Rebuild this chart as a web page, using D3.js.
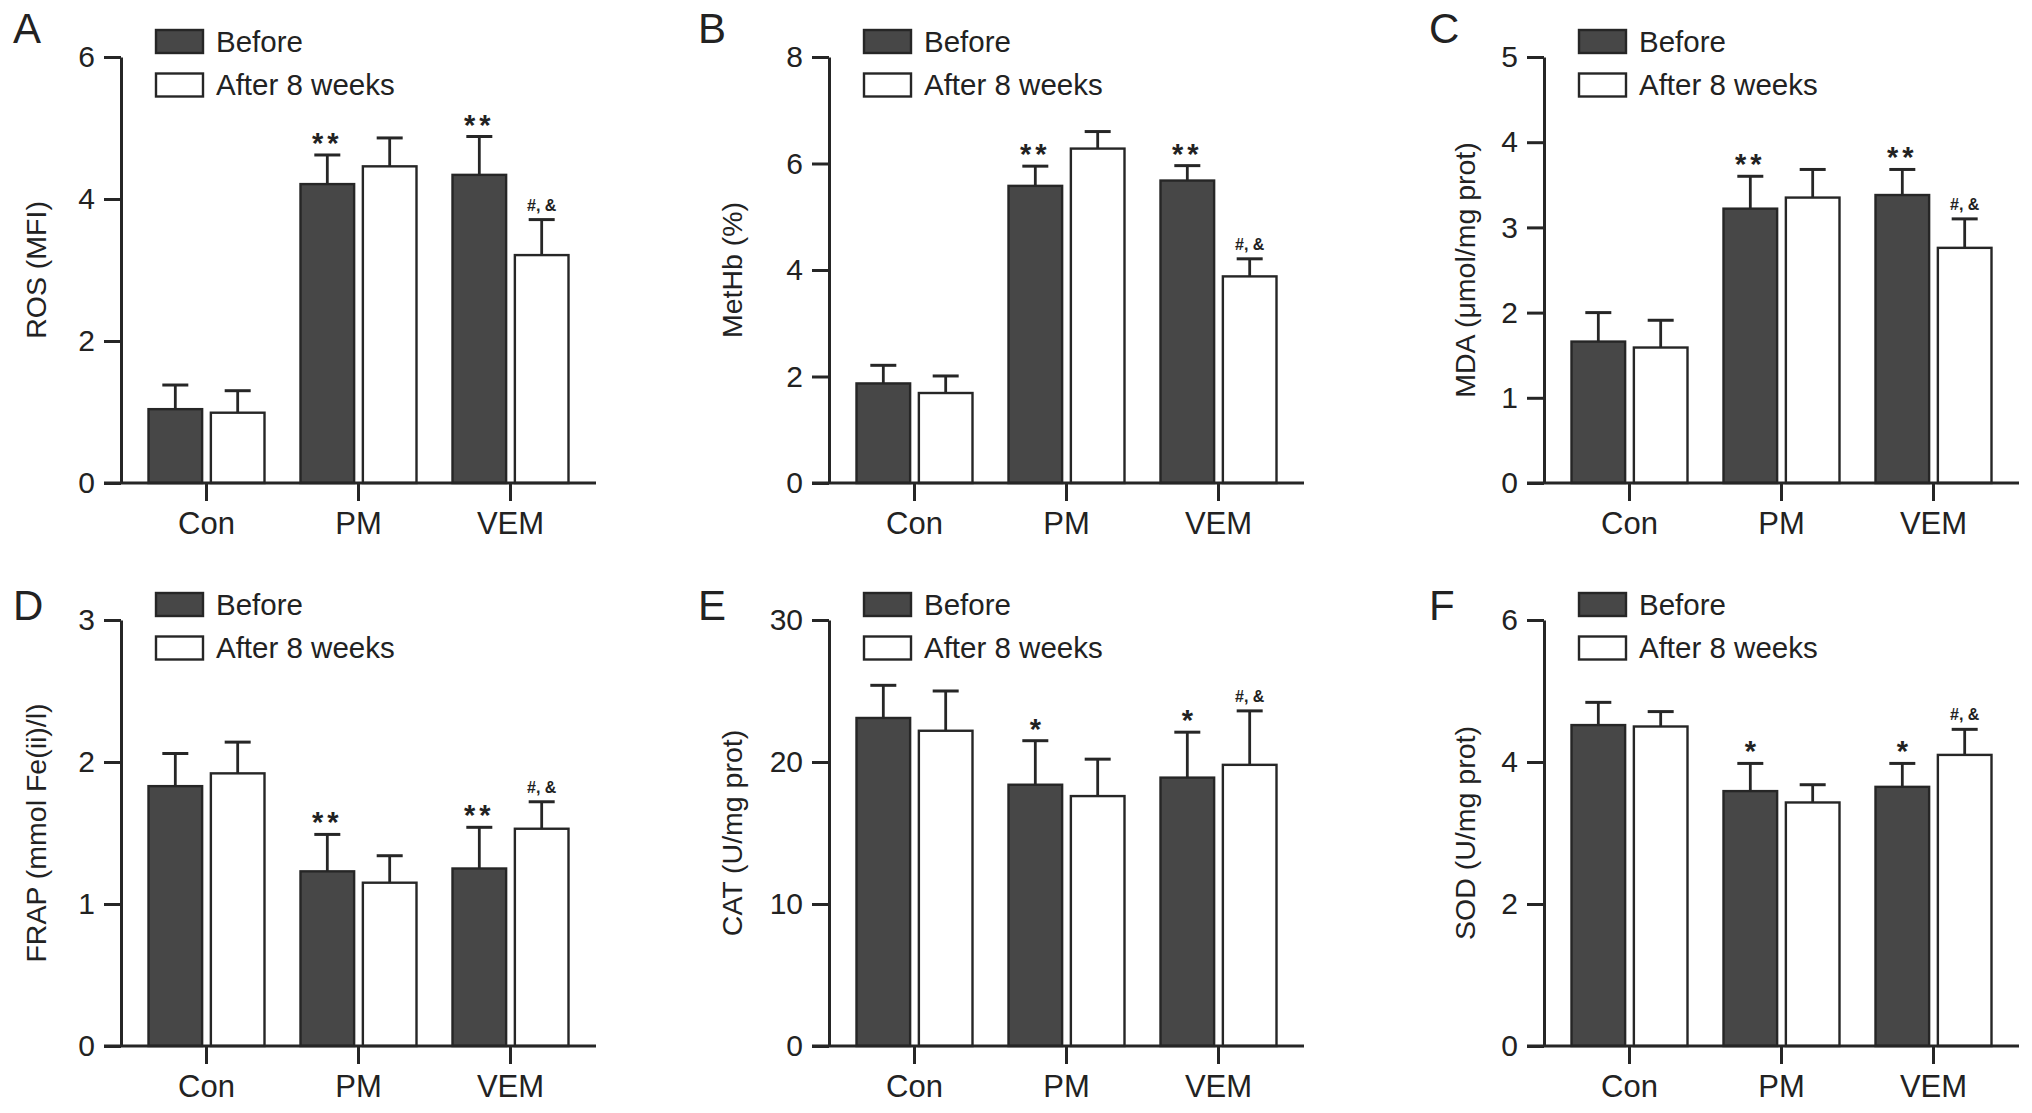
<!DOCTYPE html>
<meta charset="utf-8">
<head>
    <title>Oxidative stress markers</title>
</head>
<style>
body { margin: 0; background: #fff; }
text { font-family: "Liberation Sans", Arial, Helvetica, sans-serif; fill: #222; }
</style>

<script src="https://d3js.org/d3.v7.min.js"></script>

<div id="viz"></div>

<script>
// groups and series
var groups = ["Con", "PM", "VEM"];
var series = ["Before", "After 8 weeks"];

// A - ROS
var rosBefore = [1.04, 4.21, 4.34];
var rosBeforeSd = [0.34, 0.41, 0.54];
var rosAfter = [0.99, 4.46, 3.21];
var rosAfterSd = [0.31, 0.40, 0.50];
var rosTicks = [0, 2, 4, 6];

// B - MetHb
var methbBefore = [1.87, 5.58, 5.68];
var methbBeforeSd = [0.34, 0.37, 0.28];
var methbAfter = [1.69, 6.28, 3.88];
var methbAfterSd = [0.32, 0.32, 0.33];
var methbTicks = [0, 2, 4, 6, 8];

// C - MDA
var mdaBefore = [1.66, 3.22, 3.38];
var mdaBeforeSd = [0.34, 0.38, 0.30];
var mdaAfter = [1.59, 3.35, 2.76];
var mdaAfterSd = [0.32, 0.33, 0.34];
var mdaTicks = [0, 1, 2, 3, 4, 5];

// D - FRAP
var frapBefore = [1.83, 1.23, 1.25];
var frapBeforeSd = [0.23, 0.26, 0.29];
var frapAfter = [1.92, 1.15, 1.53];
var frapAfterSd = [0.22, 0.19, 0.19];
var frapTicks = [0, 1, 2, 3];

// E - CAT
var catBefore = [23.1, 18.4, 18.9];
var catBeforeSd = [2.3, 3.1, 3.2];
var catAfter = [22.2, 17.6, 19.8];
var catAfterSd = [2.8, 2.6, 3.8];
var catTicks = [0, 10, 20, 30];

// F - SOD
var sodBefore = [4.52, 3.59, 3.65];
var sodBeforeSd = [0.32, 0.39, 0.33];
var sodAfter = [4.50, 3.43, 4.10];
var sodAfterSd = [0.21, 0.25, 0.36];
var sodTicks = [0, 2, 4, 6];

// significance marks
var marksDouble = ["", "**", "**"];
var marksSingle = ["", "*", "*"];
var marksAfter = ["", "", "#, &"];

var panels = [
    {letter: "A", title: "ROS (MFI)", before: rosBefore, bsd: rosBeforeSd, after: rosAfter, asd: rosAfterSd, ticks: rosTicks, mb: marksDouble},
    {letter: "B", title: "MetHb (%)", before: methbBefore, bsd: methbBeforeSd, after: methbAfter, asd: methbAfterSd, ticks: methbTicks, mb: marksDouble},
    {letter: "C", title: "MDA (\u03bcmol/mg prot)", before: mdaBefore, bsd: mdaBeforeSd, after: mdaAfter, asd: mdaAfterSd, ticks: mdaTicks, mb: marksDouble},
    {letter: "D", title: "FRAP (mmol Fe(ii)/l)", before: frapBefore, bsd: frapBeforeSd, after: frapAfter, asd: frapAfterSd, ticks: frapTicks, mb: marksDouble},
    {letter: "E", title: "CAT (U/mg prot)", before: catBefore, bsd: catBeforeSd, after: catAfter, asd: catAfterSd, ticks: catTicks, mb: marksSingle},
    {letter: "F", title: "SOD (U/mg prot)", before: sodBefore, bsd: sodBeforeSd, after: sodAfter, asd: sodAfterSd, ticks: sodTicks, mb: marksSingle}
];

var colX   = [121, 829, 1544];   // y-axis position of each column
var rowTop = [57, 620];          // top tick of each row
var letterY = [43, 620];
var letterX = [13, 698, 1429];
var titleOff = [75, 87, 69];
var width  = 475;
var height = 426;
var dark = "#474747";
var ink  = "#262626";

var svg = d3.select('#viz')
    .append('svg')
        .attr('width', 2032)
        .attr('height', 1113)
        .style('display', 'block');

var x0 = d3.scaleBand()
    .domain(groups)
    .range([0, width])
    .paddingInner(0)
    .paddingOuter(0.0625);

var x1 = d3.scaleBand()
    .domain(series)
    .range([-58, 58])
    .paddingInner(0.14);

panels.forEach(function(p, i) {
    var col = i % 3, row = Math.floor(i / 3);
    var g = svg.append('g')
        .attr('transform', 'translate(' + colX[col] + ',' + rowTop[row] + ')');

    var y = d3.scaleLinear()
        .domain([0, p.ticks[p.ticks.length - 1]])
        .range([height, 0]);

    // panel letter
    svg.append('text')
        .attr('x', letterX[col])
        .attr('y', letterY[row])
        .style('font-size', '42px')
        .text(p.letter);

    // y axis
    var ya = g.append('g')
        .call(d3.axisLeft(y).tickValues(p.ticks).tickFormat(d3.format('d'))
            .tickSize(17).tickSizeOuter(0).tickPadding(9));
    ya.select('.domain').attr('stroke', ink).attr('stroke-width', 3);
    ya.selectAll('.tick line').attr('stroke', ink).attr('stroke-width', 3);
    ya.selectAll('.tick text').style('font-size', '30px').style('font-family', '"Liberation Sans", Arial, sans-serif').attr('fill', '#222');

    // y title
    g.append('text')
        .attr('transform', 'translate(' + (-titleOff[col]) + ',' + (height / 2) + ') rotate(-90)')
        .attr('text-anchor', 'middle')
        .style('font-size', '28.5px')
        .text(p.title);

    // bars
    var rows = groups.map(function(gr, k) {
        return [
            {group: gr, s: series[0], v: p.before[k], sd: p.bsd[k], mark: p.mb[k]},
            {group: gr, s: series[1], v: p.after[k], sd: p.asd[k], mark: marksAfter[k]}
        ];
    });
    var flat = [].concat.apply([], rows);

    function cx(d) { return x0(d.group) + x0.bandwidth() / 2 + x1(d.s) + x1.bandwidth() / 2; }

    // error bars (upper only)
    g.append('g').selectAll('line')
        .data(flat).enter()
        .append('line')
        .attr('x1', cx).attr('x2', cx)
        .attr('y1', function(d) { return y(d.v); })
        .attr('y2', function(d) { return y(d.v + d.sd); })
        .attr('stroke', ink).attr('stroke-width', 2.8);
    g.append('g').selectAll('line')
        .data(flat).enter()
        .append('line')
        .attr('x1', function(d) { return cx(d) - 13; })
        .attr('x2', function(d) { return cx(d) + 13; })
        .attr('y1', function(d) { return y(d.v + d.sd); })
        .attr('y2', function(d) { return y(d.v + d.sd); })
        .attr('stroke', ink).attr('stroke-width', 3);

    g.append('g').selectAll('rect')
        .data(flat).enter()
        .append('rect')
        .attr('x', function(d) { return x0(d.group) + x0.bandwidth() / 2 + x1(d.s); })
        .attr('width', x1.bandwidth())
        .attr('y', function(d) { return y(d.v); })
        .attr('height', function(d) { return height - y(d.v); })
        .attr('fill', function(d) { return d.s === series[0] ? dark : '#fff'; })
        .attr('stroke', ink)
        .attr('stroke-width', 2.4);

    // significance marks
    g.append('g').selectAll('text')
        .data(flat.filter(function(d) { return d.mark; })).enter()
        .append('text')
        .attr('x', cx)
        .attr('y', function(d) { return y(d.v + d.sd) + (d.mark.indexOf('#') >= 0 ? -9 : -2); })
        .attr('text-anchor', 'middle')
        .style('font-weight', 'bold')
        .style('font-size', function(d) { return d.mark.indexOf('#') >= 0 ? '16px' : '29px'; })
        .style('letter-spacing', function(d) { return d.mark === '**' ? '4px' : '0px'; })
        .text(function(d) { return d.mark; });

    // x axis
    g.append('line')
        .attr('x1', -17).attr('x2', width)
        .attr('y1', height).attr('y2', height)
        .attr('stroke', ink).attr('stroke-width', 3);
    var xa = g.append('g')
        .attr('transform', 'translate(0,' + height + ')')
        .call(d3.axisBottom(x0).tickSize(18).tickSizeOuter(0).tickPadding(11));
    xa.select('.domain').remove();
    xa.selectAll('.tick line').attr('stroke', ink).attr('stroke-width', 3);
    xa.selectAll('.tick text').style('font-size', '31px').style('font-family', '"Liberation Sans", Arial, sans-serif').attr('fill', '#222');

    // legend
    var leg = g.append('g');
    series.forEach(function(s, k) {
        var cy = k === 0 ? -15.5 : 28;
        leg.append('rect')
            .attr('x', 35).attr('y', cy - 11.5)
            .attr('width', 47).attr('height', 23)
            .attr('fill', k === 0 ? dark : '#fff')
            .attr('stroke', ink).attr('stroke-width', 2.4);
        leg.append('text')
            .attr('x', 95).attr('y', cy)
            .attr('dy', '0.35em')
            .style('font-size', '29.5px')
            .text(s);
    });
});
</script>
